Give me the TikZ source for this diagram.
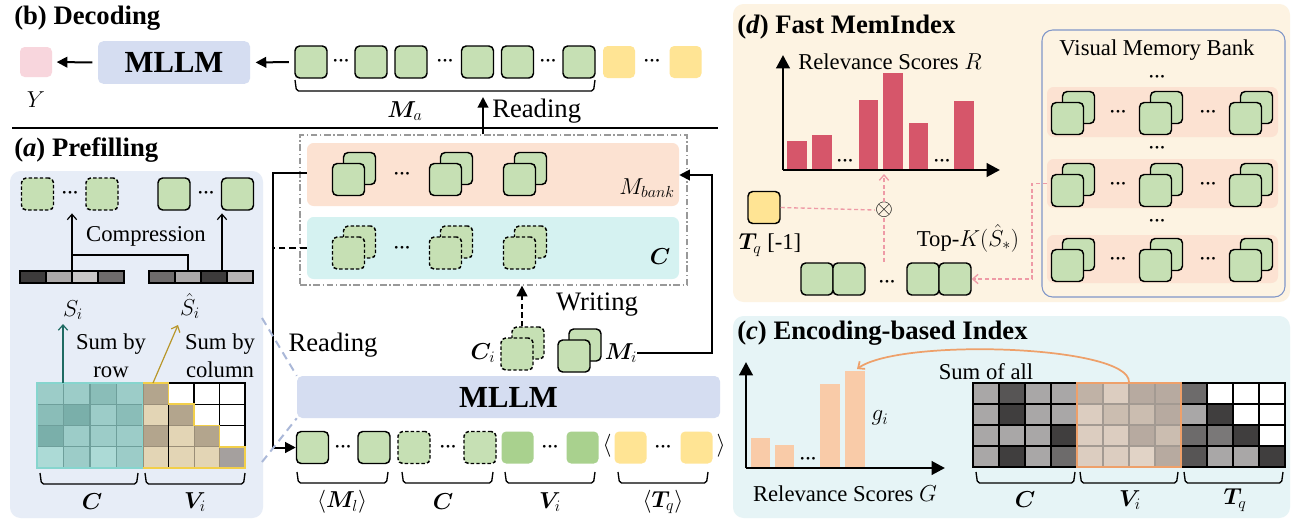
\documentclass[tikz,border=0pt]{standalone}
\usepackage{fontspec}
\setmainfont{Liberation Serif}
\usepackage{amsmath,bm}
\usetikzlibrary{arrows.meta}
\definecolor{gfill}{HTML}{C6E0B4}
\definecolor{gdark}{HTML}{A9D18E}
\definecolor{yfill}{HTML}{FFE494}
\definecolor{pinkY}{HTML}{F8D6DD}
\definecolor{mllm}{HTML}{D5DDF1}
\definecolor{panelA}{HTML}{E7EDF7}
\definecolor{peach}{HTML}{FCE2D2}
\definecolor{cyanband}{HTML}{D5F2F1}
\definecolor{panelD}{HTML}{FDF3E2}
\definecolor{panelC}{HTML}{E6F4F6}
\definecolor{barR}{HTML}{D6566A}
\definecolor{barG}{HTML}{F9CBA8}
\definecolor{pinkdash}{HTML}{EE9AA6}
\definecolor{orangeA}{HTML}{EEA06A}
\definecolor{vmb}{HTML}{8096C8}
\definecolor{zoomln}{HTML}{AAB8D8}
\definecolor{tealA}{HTML}{1F6B63}
\definecolor{goldA}{HTML}{B8962A}
\definecolor{sA}{HTML}{C9C7C7}
\definecolor{sB}{HTML}{ABA8A8}
\definecolor{sC}{HTML}{6E6B6B}
\definecolor{sD}{HTML}{3D3B3B}
\definecolor{sE}{HTML}{B7B4B4}
\definecolor{tA}{HTML}{ACDAD6}
\definecolor{tB}{HTML}{9CCCC8}
\definecolor{tC}{HTML}{8ABDB8}
\definecolor{tD}{HTML}{7AAFAA}
\definecolor{tgrid}{HTML}{6E9F9B}
\definecolor{tborder}{HTML}{86D5CE}
\definecolor{aD}{HTML}{B3A58D}
\definecolor{aL}{HTML}{E3D5B5}
\definecolor{aG}{HTML}{A5A09E}
\definecolor{agrid}{HTML}{9A8E78}
\definecolor{yelo}{HTML}{F2CF4A}
\definecolor{gL}{HTML}{A9A7A7}
\definecolor{gD}{HTML}{403E3E}
\definecolor{gDD}{HTML}{575555}
\definecolor{gM}{HTML}{6D6B6B}
\definecolor{gMM}{HTML}{7A7878}
\definecolor{vA}{HTML}{DCCDC0}
\definecolor{vB}{HTML}{CBBDB0}
\definecolor{vC}{HTML}{C0B2A6}
\definecolor{vD}{HTML}{B7AAA0}
\definecolor{vE}{HTML}{E1D3C6}
\definecolor{vgrid}{HTML}{A39A92}
\newcommand{\ubr}[3]{\draw[brk] (#1,#3) -- (#1+1.5,#3+11) -- (#2-1.5,#3+11) -- (#2,#3);}
\newcommand{\dsq}[4]{\node[#4] (#1b) at ([shift={(11,-11)}]#2,#3) {};\node[#4] (#1) at (#2,#3) {};}
\newcommand{\ddd}{\textbullet\kern1.3pt\textbullet\kern1.3pt\textbullet}
\begin{document}
\begin{tikzpicture}[x=0.75pt,y=-0.75pt,
 sq/.style={minimum width=24pt,minimum height=24pt,inner sep=0pt,rounded corners=3.5pt,line width=1.1pt},
 gs/.style={sq,draw=black,fill=gfill},
 gsd/.style={gs,dash pattern=on 2.6pt off 1.6pt},
 gdk/.style={sq,fill=gdark},
 ys/.style={sq,fill=yfill},
 dts/.style={inner sep=0pt,font=\fontsize{8.5}{8.5}\selectfont},
 txt/.style={inner sep=0pt,font=\fontsize{17}{21}\selectfont},
 bigt/.style={inner sep=0pt,font=\fontsize{20}{24}\selectfont},
 ttl/.style={inner sep=0pt,anchor=west,font=\bfseries\fontsize{20}{23}\selectfont},
 mllmbox/.style={fill=mllm,rounded corners=4pt,inner sep=0pt,font=\bfseries\fontsize{23}{23}\selectfont},
 conn/.style={line width=1.5pt},
 barrow/.style={line width=1.5pt,-{Triangle[length=8pt,width=8pt]}},
 thinarr/.style={line width=0.9pt,-{Straight Barb[length=4pt,width=7pt]}},
 brk/.style={line width=1pt,rounded corners=1.5pt},
 pinkd/.style={pinkdash,line width=1pt,dash pattern=on 3pt off 2pt},
 axisar/.style={line width=2.2pt,-{Triangle[length=10pt,width=10pt]}},
]
\useasboundingbox (0,0) rectangle (1296,526);
\fill[white] (0,0) rectangle (1296,526);
% panels
\fill[panelA,rounded corners=8pt] (10,171) rectangle (263,518);
\fill[panelD,rounded corners=8pt] (733,4) rectangle (1290,302);
\fill[panelC,rounded corners=8pt] (733,316) rectangle (1290,518);

% ================= (b) Decoding
\node[ttl] (tb) at (14,18) {(b) Decoding};
\node[sq,fill=pinkY,minimum height=22.5pt] (Yb) at (36,62) {};
\node[txt] (Ylab) at (36,100) {$Y$};
\node[mllmbox,minimum width=114pt,minimum height=32pt] (mllmT) at (174,62.5) {MLLM};
\draw[barrow,shorten <=4pt,shorten >=3pt] (mllmT.west) -- (Yb.east);
\node[gs] (a1) at (311,62) {};
\node[gs] (a2) at (371,62) {};
\node[gs] (a3) at (411,62) {};
\node[gs] (a4) at (477.5,62) {};
\node[gs] (a5) at (517.5,62) {};
\node[gs] (a6) at (579,62) {};
\node[ys] (ay1) at (619,62) {};
\node[ys] (ay2) at (685.5,62) {};
\node[dts] (ad1) at (341,62) {\ddd};
\node[dts] (ad2) at (445,62) {\ddd};
\node[dts] (ad3) at (548,62) {\ddd};
\node[dts] (ad4) at (652,62) {\ddd};
\draw[barrow,shorten <=4pt,shorten >=4pt] (a1.west) -- (mllmT.east);
\ubr{295}{595}{80}
\node[txt] (Ma) at (405,111) {$\bm{M}_a$};
\draw[line width=1.1pt] (12,128) -- (718,128);

% ================= middle memory
\node[draw=gray!80,line width=0.9pt,dash pattern=on 5pt off 2pt on 1pt off 2pt,minimum width=290.25pt,minimum height=112.5pt,inner sep=0pt] (memBox) at (493.5,210) {};
\node[fill=peach,rounded corners=5pt,minimum width=279pt,minimum height=47.25pt,inner sep=0pt] (mbank) at (493,174.5) {};
\node[fill=cyanband,rounded corners=5pt,minimum width=279pt,minimum height=46.5pt,inner sep=0pt] (cband) at (493,248) {};
\dsq{m1}{348.5}{179.5}{gs}
\dsq{m2}{445.5}{179.5}{gs}
\dsq{m3}{519.5}{179.5}{gs}
\node[dts] (md) at (402,175) {\ddd};
\dsq{c1}{348.5}{253}{gsd}
\dsq{c2}{445.5}{253}{gsd}
\dsq{c3}{519.5}{253}{gsd}
\node[dts] (cd) at (402,249) {\ddd};
\node[txt] (mbL) at (647,188) {$M_{bank}$};
\node[txt] (cbL) at (660,257) {$\bm{C}$};
\coordinate (rdTip) at (483,97);
\draw[barrow] (memBox.north -| rdTip) -- (rdTip);
\node[bigt,anchor=west] (rdT) at (492,111) {Reading};

% bottom sequence
\node[mllmbox,minimum width=317.25pt,minimum height=31.5pt] (mllmB) at (508.5,397) {MLLM};
\node[gs] (b1) at (312.5,447.5) {};
\node[gs] (b2) at (374,447.5) {};
\node[gsd] (b3) at (414,447.5) {};
\node[gsd] (b4) at (480,447.5) {};
\node[gdk] (b5) at (517.5,447.5) {};
\node[gdk] (b6) at (582.5,447.5) {};
\node[ys] (b7) at (630.5,447.5) {};
\node[ys] (b8) at (696.5,447.5) {};
\node[dts] (bd1) at (343,447.5) {\ddd};
\node[dts] (bd2) at (448,447.5) {\ddd};
\node[dts] (bd3) at (550,447.5) {\ddd};
\node[dts] (bd4) at (663,447.5) {\ddd};
\node[txt] (lang) at (607,446) {$\langle$};
\node[txt] (rang) at (721,446) {$\rangle$};
\ubr{297}{388}{472}
\ubr{402}{493}{472}
\ubr{505}{595}{472}
\ubr{618}{708}{472}
\node[txt] (lbM) at (342,502) {$\langle\bm{M}_l\rangle$};
\node[txt] (lbC) at (443,502) {$\bm{C}$};
\node[txt] (lbV) at (550,502) {$\bm{V}_i$};
\node[txt] (lbT) at (663,502) {$\langle\bm{T}_q\rangle$};

% connectors
\coordinate (lc) at (273,173);
\draw[barrow] (mbank.west |- lc) -- (lc) -- (lc |- b1.west) -- (b1.west);
\draw[conn,dash pattern=on 5pt off 3pt] (cband.west) -- (cband.west -| lc);
\node[bigt] (rd2) at (333,345) {Reading};
\dsq{Ci}{517}{354}{gsd}
\node[txt] (CiL) at (483,353) {$\bm{C}_i$};
\dsq{Mi}{574}{356}{gs}
\node[txt] (MiL) at (621,353) {$\bm{M}_i$};
\coordinate (rc) at (712,175);
\draw[barrow] (MiL.east) -- (MiL.east -| rc) -- (rc) -- (rc -| mbank.east);
\coordinate (wr) at (522,300);
\draw[barrow,dash pattern=on 4pt off 2.5pt] (Cib.north -| wr) -- (memBox.south -| wr);
\node[bigt] (wrT) at (597,305) {Writing};
\coordinate (z1) at (262,318);
\coordinate (z2) at (262,462);
\draw[zoomln,line width=1.5pt,dash pattern=on 6pt off 4pt] (z1) -- (mllmB.north west);
\draw[zoomln,line width=1.5pt,dash pattern=on 6pt off 4pt] (z2) -- (mllmB.south west);

% ================= (a) Prefilling
\node[ttl] (ta) at (14,150) {(\textit{a}) Prefilling};
\node[gsd] (p1) at (37.5,194) {};
\node[gsd] (p2) at (102,194) {};
\node[dts] (pd1) at (70,194) {\ddd};
\node[gs] (p3) at (174,194) {};
\node[gs] (p4) at (237.5,194) {};
\node[dts] (pd2) at (206,194) {\ddd};
\foreach \i/\cl in {0/sD,1/sB,2/sA,3/sC}
  \filldraw[fill=\cl,draw=black,line width=0.9pt] (20+26*\i,271) rectangle ++(26,12);
\foreach \i/\cl in {0/sC,1/sB,2/sD,3/sE}
  \filldraw[fill=\cl,draw=black,line width=0.9pt] (149+26*\i,271) rectangle ++(26,12);
\node[minimum width=78pt,minimum height=9pt,inner sep=0pt] (Sb) at (72,277) {};
\node[minimum width=78pt,minimum height=9pt,inner sep=0pt] (Shb) at (201,277) {};
\coordinate (cmp) at (188,255);
\coordinate (ar2) at (222,0);
\draw[thinarr,shorten >=2pt] (Sb.north) -- (Sb.north |- p1.south);
\draw[thinarr,shorten >=2pt] (Shb.north -| ar2) -- (p4.south -| ar2);
\draw[line width=0.9pt] (Shb.north -| cmp) -- (cmp) -- (cmp -| Sb.north);
\node[txt] (cmpT) at (146,236) {Compression};
\node[txt] (SiL) at (73,310) {$S_i$};
\node[txt] (ShL) at (190,306) {$\hat{S}_i$};
\node[minimum width=79.5pt,minimum height=63.75pt,inner sep=0pt] (Cm) at (90,425.5) {};
\node[minimum width=76.5pt,minimum height=63.75pt,inner sep=0pt] (Vm) at (194,425.5) {};
\coordinate (tA1) at (63,324);
\coordinate (gA0) at (153,383);
\coordinate (gA1) at (178,325);
\node[txt,align=center] (sr) at (111,356) {Sum by\\row};
\node[txt,align=center] (sc) at (220,356) {Sum by\\column};
\foreach \r/\c/\cl in {0/0/tB,0/1/tB,0/2/tC,0/3/tB,1/0/tC,1/1/tD,1/2/tB,1/3/tC,2/0/tD,2/1/tB,2/2/tB,2/3/tB,3/0/tA,3/1/tB,3/2/tA,3/3/tB}
  \filldraw[fill=\cl,draw=tgrid,line width=1pt] (37+26.5*\c,383+21.25*\r) rectangle ++(26.5,21.25);
\draw[tborder,line width=1.2pt] (37,383) rectangle (143,468);
\foreach \r/\c/\cl in {0/0/aD,1/0/aL,1/1/aD,2/0/aD,2/1/aL,2/2/aD,3/0/aL,3/1/aL,3/2/aL,3/3/aG}
  \filldraw[fill=\cl,draw=agrid,line width=0.6pt] (143+25.5*\c,383+21.25*\r) rectangle ++(25.5,21.25);
\foreach \r/\c in {0/1,0/2,0/3,1/2,1/3,2/3}
  \filldraw[fill=white,draw=black,line width=1.1pt] (143+25.5*\c,383+21.25*\r) rectangle ++(25.5,21.25);
\draw[black,line width=1.1pt] (168.5,404.25) -- (168.5,468);
\draw[yelo,line width=1.4pt] (143,383) -- (168.5,383) -- (168.5,404.25) -- (194,404.25) -- (194,425.5) -- (219.5,425.5) -- (219.5,446.75) -- (245,446.75) -- (245,468) -- (143,468);
\draw[thinarr,draw=tealA] (Cm.north -| tA1) -- (tA1);
\draw[thinarr,draw=goldA] (gA0) -- (gA1);
\ubr{40}{138}{473}
\ubr{145}{245}{473}
\node[txt] (aC) at (92,502) {$\bm{C}$};
\node[txt] (aV) at (195,502) {$\bm{V}_i$};

% ================= (d) Fast MemIndex
\node[ttl] (td) at (737,27) {(\textit{d}) Fast MemIndex};
\node[txt] (relR) at (890,62) {Relevance Scores $R$};
\foreach \xa/\xb/\yt in {787/807/141,812/832/135,859/878/100,883/903/73,909/928/123,954/974/101}
  \fill[barR] (\xa,\yt) rectangle (\xb,169);
\coordinate (dO) at (783,170);
\draw[axisar] (dO) -- (783,55);
\draw[axisar] (dO) -- (1000,170);
\node[dts] (dd1) at (845,162) {\ddd};
\node[dts] (dd2) at (942,162) {\ddd};
\node[sq,draw=black,fill=yfill] (Tq) at (764,207.5) {};
\node[txt] (TqL) at (770,245) {$\bm{T}_q$ [-1]};
\node[inner sep=0pt,font=\fontsize{16}{16}\selectfont] (ot) at (884,210) {$\otimes$};
\coordinate (dx) at (884,174);
\draw[pinkd] (Tq.east) -- (ot.west);
\draw[pinkd,-{Straight Barb[length=4pt,width=7pt]}] (ot.north) -- (dx);
\node[gs] (k1) at (817,279) {};
\node[gs] (k2) at (849,279) {};
\node[gs] (k3) at (923,279) {};
\node[gs] (k4) at (955,279) {};
\node[dts] (kd) at (887,283) {\ddd};
\draw[pinkd] (ot.south) -- (ot.south |- k1.north);
\node[txt] (topk) at (968,238) {Top-$K(\hat{S}_*)$};
\node[draw=vmb,line width=0.8pt,rounded corners=8pt,minimum width=182.25pt,minimum height=200.25pt,inner sep=0pt] (vmbox) at (1163.5,163.5) {};
\node[txt] (vmbT) at (1157,50) {Visual Memory Bank};
\node[fill=peach,rounded corners=5pt,minimum width=173.25pt,minimum height=37.5pt,inner sep=0pt] (r1) at (1162.5,112) {};
\node[fill=peach,rounded corners=5pt,minimum width=173.25pt,minimum height=36.75pt,inner sep=0pt] (r2) at (1162.5,183.5) {};
\node[fill=peach,rounded corners=5pt,minimum width=173.25pt,minimum height=36pt,inner sep=0pt] (r3) at (1162.5,259) {};
\node[dts] (vd0) at (1157,78) {\ddd};
\node[dts] (vd1) at (1157,149) {\ddd};
\node[dts] (vd2) at (1157,222) {\ddd};
\foreach \rw/\yy in {1/118.5,2/190.5,3/265.5}{
  \dsq{v\rw a}{1067.5}{\yy}{gs}
  \dsq{v\rw b}{1155.5}{\yy}{gs}
  \dsq{v\rw c}{1245.5}{\yy}{gs}
  \node[dts] (vx\rw a) at (1118,\yy-6) {\ddd};
  \node[dts] (vx\rw b) at (1208,\yy-6) {\ddd};
}
\coordinate (bk) at (1032,184);
\draw[pinkd,-{Straight Barb[length=4pt,width=7pt]}] (r2.west) -- (r2.west -| bk) -- (bk |- k4.east) -- (k4.east);

% ================= (c) Encoding-based Index
\node[ttl] (tc) at (737,333) {(\textit{c}) Encoding-based Index};
\foreach \xa/\xb/\yt in {751/770/438,775/794/445,820/840/384,845/865/371}
  \fill[barG] (\xa,\yt) rectangle (\xb,467);
\coordinate (cO) at (746,468);
\draw[axisar] (cO) -- (746,362);
\draw[axisar] (cO) -- (945,468);
\node[dts] (cdd) at (808,460) {\ddd};
\node[txt] (gi) at (880,418) {$g_i$};
\node[txt] (relG) at (845,494) {Relevance Scores $G$};
\foreach \r/\c/\cl in {0/0/gL,0/1/gDD,0/2/gL,0/3/gL,1/0/gL,1/1/gD,1/2/gL,1/3/gL,2/0/gL,2/1/gL,2/2/gL,2/3/gD,3/0/gL,3/1/gD,3/2/gL,3/3/gM}
  \filldraw[fill=\cl,draw=black,line width=1.2pt] (973+26*\c,383+21*\r) rectangle ++(26,21);
\foreach \r/\c/\cl in {0/0/gM,0/1/white,0/2/white,0/3/white,1/0/gL,1/1/gD,1/2/white,1/3/white,2/0/gM,2/1/gMM,2/2/gD,2/3/white,3/0/gDD,3/1/gL,3/2/gL,3/3/gD}
  \filldraw[fill=\cl,draw=black,line width=1.2pt] (1181+26*\c,383+21*\r) rectangle ++(26,21);
\foreach \r/\c/\cl in {0/0/vC,0/1/vA,0/2/vD,0/3/vD,1/0/vA,1/1/vB,1/2/vB,1/3/vD,2/0/vA,2/1/vA,2/2/vD,2/3/vB,3/0/vA,3/1/vA,3/2/vE,3/3/vD}
  \filldraw[fill=\cl,draw=vgrid,line width=1pt] (1077+26*\c,383+21*\r) rectangle ++(26,21);
\node[draw=orangeA,line width=1.3pt,minimum width=78pt,minimum height=63pt,inner sep=0pt] (Vc) at (1129,425) {};
\node[txt] (soa) at (986,372) {Sum of all};
\coordinate (g4) at (857,369);
\draw[orangeA,line width=1.3pt,-{Straight Barb[length=4pt,width=7pt]}] (Vc.north) .. controls (1130,345) and (900,338) .. (g4);
\ubr{976}{1075}{472}
\ubr{1080}{1178}{472}
\ubr{1184}{1283}{472}
\node[txt] (cC) at (1025,500) {$\bm{C}$};
\node[txt] (cV) at (1130,500) {$\bm{V}_i$};
\node[txt] (cT) at (1235,500) {$\bm{T}_q$};
\end{tikzpicture}
\end{document}
